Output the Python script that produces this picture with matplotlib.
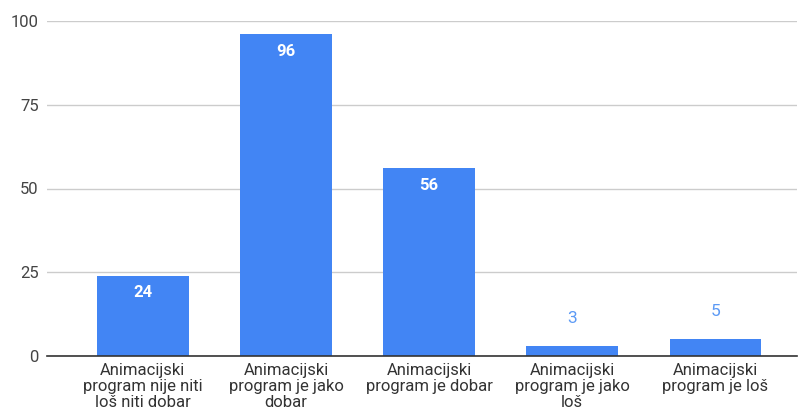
import matplotlib
matplotlib.use("Agg")
import matplotlib.pyplot as plt

# data
categories = [
    "Animacijski\nprogram nije niti\nloš niti dobar",
    "Animacijski\nprogram je jako\ndobar",
    "Animacijski\nprogram je dobar",
    "Animacijski\nprogram je jako\nloš",
    "Animacijski\nprogram je loš",
]
values = [24, 96, 56, 3, 5]
yticks = [0, 25, 50, 75, 100]

BLUE = "#4285f4"
plt.rcParams["font.family"] = ["Roboto", "DejaVu Sans"]

fig = plt.figure(figsize=(7.99, 4.16), dpi=100)
ax = fig.add_axes([47 / 799, 60 / 416, 750 / 799, 335 / 416])

x = list(range(len(values)))
bars = ax.bar(x, values, width=0.64, color=BLUE, zorder=3)

for b, v in zip(bars, values):
    cx = b.get_x() + b.get_width() / 2
    if v > 10:
        ax.annotate(str(v), (cx, v), xytext=(0, -12), textcoords="offset points",
                    ha="center", va="center", color="white", fontsize=12,
                    fontweight="bold", zorder=4)
    else:
        ax.annotate(str(v), (cx, v), xytext=(0, 20), textcoords="offset points",
                    ha="center", va="center", color="#5c9af5", fontsize=12.5,
                    zorder=4)

ax.set_xlim(-0.67, 4.57)
ax.set_ylim(0, 100)
ax.set_yticks(yticks)
ax.set_yticklabels([str(t) for t in yticks], color="#444444", fontsize=12)
ax.set_xticks(x)
ax.set_xticklabels(categories, color="#333333", fontsize=12, linespacing=1.08)
ax.tick_params(axis="both", length=0, pad=6)
ax.tick_params(axis="x", pad=5)

ax.grid(axis="y", color="#cccccc", linewidth=1, zorder=0)
for s in ["top", "right", "left"]:
    ax.spines[s].set_visible(False)
ax.spines["bottom"].set_color("#333333")
ax.spines["bottom"].set_linewidth(1.2)
ax.spines["bottom"].set_zorder(5)

fig.savefig("out.png", dpi=100)
